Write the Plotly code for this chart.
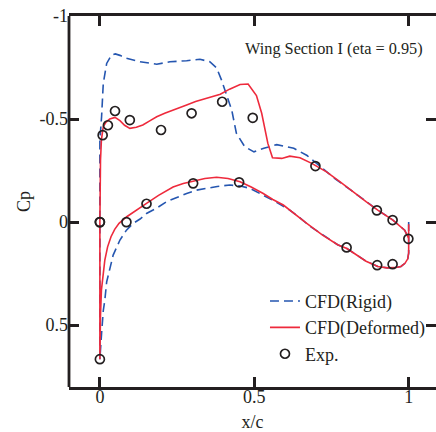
import plotly.graph_objects as go

# ---------------- data ----------------
# CFD (Deformed): lower surface listed trailing edge -> leading edge (incl. blunt TE base)
red_lower_x = [1.0, 1.0, 0.997, 0.988, 0.975, 0.955, 0.93, 0.9, 0.862, 0.83,
               0.80, 0.77, 0.72, 0.67, 0.63, 0.594, 0.56, 0.529, 0.49, 0.454,
               0.415, 0.378, 0.34, 0.302, 0.27, 0.237, 0.19, 0.151, 0.11, 0.087,
               0.062, 0.048, 0.036, 0.025, 0.016, 0.01, 0.005, 0.002, 0.0005, 0]
red_lower_y = [0.01, 0.15, 0.178, 0.2, 0.215, 0.221, 0.222, 0.215, 0.19, 0.16,
               0.128, 0.11, 0.062, 0.006, -0.04, -0.083, -0.11, -0.139, -0.17, -0.196,
               -0.212, -0.218, -0.212, -0.198, -0.187, -0.17, -0.13, -0.091, -0.05, -0.026,
               0.006, 0.035, 0.071, 0.12, 0.184, 0.25, 0.33, 0.45, 0.58, 0.665]
# CFD (Deformed): upper surface, leading edge -> trailing edge
red_upper_x = [0, 0.001, 0.002, 0.005, 0.011, 0.02, 0.032, 0.049, 0.065, 0.08,
               0.097, 0.118, 0.139, 0.16, 0.184, 0.21, 0.236, 0.26, 0.281, 0.31,
               0.346, 0.39, 0.42, 0.454, 0.48, 0.507, 0.524, 0.535, 0.544, 0.559,
               0.589, 0.615, 0.648, 0.686, 0.734, 0.777, 0.819, 0.862, 0.9, 0.949,
               0.987, 1.0]
red_upper_y = [0, -0.2, -0.3, -0.4, -0.463, -0.485, -0.5, -0.508, -0.492, -0.47,
               -0.455, -0.46, -0.471, -0.49, -0.511, -0.528, -0.544, -0.556, -0.568, -0.585,
               -0.6, -0.62, -0.645, -0.668, -0.67, -0.614, -0.528, -0.447, -0.382, -0.312,
               -0.309, -0.32, -0.312, -0.285, -0.244, -0.196, -0.147, -0.099, -0.058, -0.01,
               0.039, 0.079]

# CFD (Rigid): lower surface, trailing edge -> leading edge
blue_lower_x = [1.0, 1.0, 0.997, 0.988, 0.975, 0.955, 0.93, 0.9, 0.862, 0.83,
                0.80, 0.77, 0.72, 0.68, 0.65, 0.615, 0.575, 0.54, 0.51, 0.486,
                0.455, 0.421, 0.38, 0.346, 0.313, 0.281, 0.25, 0.216, 0.184, 0.151,
                0.13, 0.108, 0.086, 0.065, 0.043, 0.032, 0.022, 0.016, 0.011, 0.0055,
                0.002, 0]
blue_lower_y = [0.0, 0.15, 0.178, 0.2, 0.215, 0.221, 0.222, 0.215, 0.19, 0.16,
                0.128, 0.11, 0.062, 0.02, -0.018, -0.058, -0.094, -0.123, -0.148, -0.164,
                -0.175, -0.18, -0.173, -0.164, -0.155, -0.139, -0.12, -0.099, -0.068, -0.042,
                -0.015, 0.006, 0.039, 0.087, 0.16, 0.235, 0.29, 0.379, 0.43, 0.54,
                0.62, 0.665]
# CFD (Rigid): upper surface, leading edge -> trailing edge
blue_upper_x = [0, 0, 0.0055, 0.011, 0.022, 0.038, 0.05, 0.065, 0.086, 0.13,
                0.184, 0.227, 0.281, 0.324, 0.356, 0.378, 0.394, 0.41, 0.427, 0.442,
                0.469, 0.499, 0.531, 0.573, 0.628, 0.671, 0.713, 0.761, 0.813, 0.857,
                0.9, 0.949, 0.987, 1.0]
blue_upper_y = [0, -0.398, -0.511, -0.673, -0.77, -0.811, -0.816, -0.809, -0.795, -0.778,
                -0.766, -0.778, -0.783, -0.79, -0.778, -0.748, -0.689, -0.617, -0.544, -0.431,
                -0.366, -0.341, -0.358, -0.376, -0.358, -0.323, -0.272, -0.211, -0.155, -0.107,
                -0.058, -0.01, 0.039, 0.079]

# Experiment
exp_x = [0, 0, 0, 0.009, 0.026, 0.049, 0.097, 0.198, 0.297, 0.396, 0.495,
         0.698, 0.897, 0.948, 0.999, 0.086, 0.151, 0.302, 0.451, 0.799, 0.898, 0.948]
exp_y = [0, 0, 0.665, -0.422, -0.47, -0.539, -0.495, -0.447, -0.528, -0.584, -0.506,
         -0.272, -0.057, -0.01, 0.081, 0, -0.089, -0.188, -0.193, 0.123, 0.209, 0.204]

x_tick_vals = [0, 0.5, 1]
x_tick_labels = ["0", "0.5", "1"]
y_tick_vals = [-1, -0.5, 0, 0.5]
y_tick_labels = ["-1", "-0.5", "0", "0.5"]

series_names = ["CFD(Rigid)", "CFD(Deformed)", "Exp."]
title_text = "Wing Section I (eta = 0.95)"

# ---------------- figure ----------------
FONT = "Liberation Serif, Times New Roman, serif"
INK = "#231f20"
BLUE = "#2556b0"
RED = "#ee2a3c"

fig = go.Figure()
fig.add_trace(go.Scatter(
    x=blue_lower_x + blue_upper_x, y=blue_lower_y + blue_upper_y,
    mode="lines", name=series_names[0],
    line=dict(color=BLUE, width=1.6, dash="9px,5px")))
fig.add_trace(go.Scatter(
    x=red_lower_x + red_upper_x, y=red_lower_y + red_upper_y,
    mode="lines", name=series_names[1],
    line=dict(color=RED, width=1.6)))
fig.add_trace(go.Scatter(
    x=exp_x, y=exp_y, mode="markers", name=series_names[2],
    marker=dict(symbol="circle-open", size=9, color=INK, line=dict(width=1.7, color=INK))))

axis_common = dict(
    ticks="inside", ticklen=10, tickwidth=2.5, tickcolor=INK,
    showgrid=False, zeroline=False, automargin=False,
    ticklabeloverflow="allow",
    tickfont=dict(family=FONT, size=18, color=INK),
)

fig.update_xaxes(
    range=[-0.1, 1.0885], tickmode="array", tickvals=x_tick_vals, ticktext=x_tick_labels,
    showline=True, linewidth=2.8, linecolor=INK, mirror="ticks",
    ticklabelstandoff=-9,
    title=dict(text="x/c", font=dict(family=FONT, size=18, color=INK), standoff=13),
    **axis_common)
fig.update_yaxes(
    range=[0.8, -1], tickmode="array", tickvals=y_tick_vals, ticktext=y_tick_labels,
    showline=False, mirror="ticks",
    title=dict(text="Cp", font=dict(family=FONT, size=18, color=INK), standoff=4),
    **axis_common)

fig.add_shape(type="line", xref="paper", yref="paper", x0=0, x1=0, y0=0, y1=1,
              line=dict(color=INK, width=2.8))

fig.add_annotation(x=0.758, y=-0.84, xref="x", yref="y", text=title_text,
                   showarrow=False, font=dict(family=FONT, size=16.3, color=INK))

fig.update_layout(
    width=436, height=432,
    margin=dict(l=69, r=0, t=16, b=45),
    paper_bgcolor="white", plot_bgcolor="white",
    font=dict(family=FONT, size=18, color=INK),
    showlegend=True,
    legend=dict(x=0.534, y=0.281, xanchor="left", yanchor="top",
                bgcolor="rgba(0,0,0,0)", font=dict(family=FONT, size=18, color=INK),
                tracegroupgap=0),
)

# remove the page's default 8px body margin so the figure fills the window exactly
fig.write_html("out.html",
               config={"displayModeBar": False},
               post_script="document.body.style.margin='0';document.body.style.overflow='hidden';")
